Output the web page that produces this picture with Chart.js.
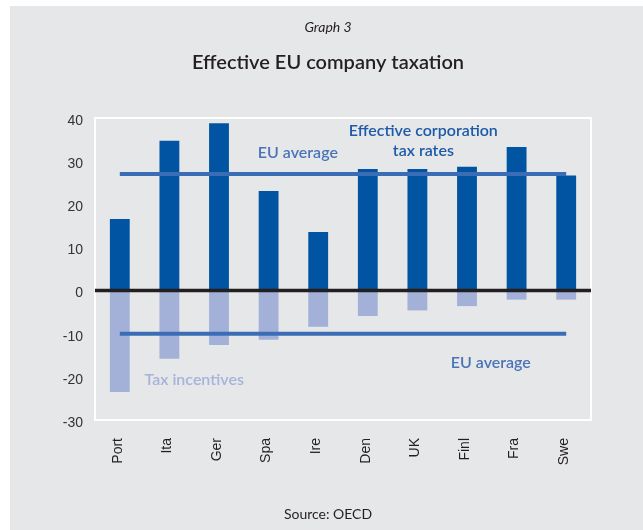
<!DOCTYPE html>
<html>
<head>
<meta charset="utf-8">
<script src="https://cdn.jsdelivr.net/npm/chart.js@4.4.1/dist/chart.umd.min.js"></script>
<style>
  html, body { margin: 0; padding: 0; background: #ffffff; }
  #wrap { width: 643px; height: 530px; position: relative; }
</style>
</head>
<body>
<div id="wrap"><canvas id="chart" width="643" height="530"></canvas></div>
<script>
// Effective corporation tax rates and tax incentives by country (%)
const countries = ['Port', 'Ita', 'Ger', 'Spa', 'Ire', 'Den', 'UK', 'Finl', 'Fra', 'Swe'];
const effectiveRates = [16.6, 34.7, 38.8, 23.1, 13.6, 28.2, 28.2, 28.7, 33.3, 26.7];
const taxIncentives = [-23.5, -15.8, -12.6, -11.4, -8.4, -5.9, -4.6, -3.6, -2.1, -2.1];
const euAverageRate = 27;
const euAverageIncentive = -10;
const yTicks = [40, 30, 20, 10, 0, -10, -20, -30];

const PANEL = '#e6e7e9';
const DARK_BLUE = '#0054a1';
const LIGHT_BLUE = '#a3b1d9';
const LINE_BLUE = '#3b6cb6';

const decorations = {
  id: 'decorations',
  beforeDraw(chart) {
    const ctx = chart.ctx;
    ctx.save();
    ctx.fillStyle = '#ffffff';
    ctx.fillRect(0, 0, chart.width, chart.height);
    ctx.fillStyle = PANEL;
    ctx.fillRect(10, 6, chart.width - 10, chart.height - 6);
    // white frame round the plot area
    const a = chart.chartArea;
    ctx.strokeStyle = '#ffffff';
    ctx.lineWidth = 2;
    ctx.strokeRect(a.left, a.top, a.right - a.left, a.bottom - a.top);
    // headings
    ctx.fillStyle = '#231f20';
    ctx.textAlign = 'center';
    ctx.textBaseline = 'middle';
    ctx.font = 'italic 14px Lato';
    ctx.fillText('Graph 3', 328, 27);
    ctx.font = '600 20px Lato';
    ctx.fillText('Effective EU company taxation', 328, 63);
    ctx.font = '14px Lato';
    ctx.fillText('Source: OECD', 328, 514);
    ctx.restore();
  },
  afterDatasetsDraw(chart) {
    const ctx = chart.ctx;
    const x = chart.scales.x;
    const y = chart.scales.y;
    const a = chart.chartArea;
    ctx.save();
    // zero axis line
    const y0 = y.getPixelForValue(0);
    ctx.strokeStyle = '#231f20';
    ctx.lineWidth = 3.5;
    ctx.beginPath();
    ctx.moveTo(a.left, y0);
    ctx.lineTo(a.right, y0);
    ctx.stroke();
    // annotations
    const at = (i, v) => [x.getPixelForValue(0) + i * (x.getPixelForValue(1) - x.getPixelForValue(0)), y.getPixelForValue(v)];
    ctx.textAlign = 'center';
    ctx.textBaseline = 'middle';
    ctx.font = '600 16px Lato';
    let p;
    ctx.fillStyle = '#4a74b8';
    p = at(3.59, 32);   ctx.fillText('EU average', p[0], p[1]);
    p = at(7.48, -16.8); ctx.fillText('EU average', p[0], p[1]);
    ctx.fillStyle = '#1d5aa7';
    p = at(6.12, 37);   ctx.fillText('Effective corporation', p[0], p[1]);
    p = at(6.12, 32.4); ctx.fillText('tax rates', p[0], p[1]);
    ctx.fillStyle = '#a6b3da';
    p = at(1.5, -20.8); ctx.fillText('Tax incentives', p[0], p[1]);
    ctx.restore();
  }
};

new Chart(document.getElementById('chart'), {
  data: {
    labels: countries,
    datasets: [
      { type: 'line', label: 'EU average rate', data: countries.map(() => euAverageRate),
        borderColor: LINE_BLUE, borderWidth: 4, pointRadius: 0, order: 1 },
      { type: 'line', label: 'EU average incentive', data: countries.map(() => euAverageIncentive),
        borderColor: LINE_BLUE, borderWidth: 4, pointRadius: 0, order: 1 },
      { type: 'bar', label: 'Effective corporation tax rates', data: effectiveRates,
        backgroundColor: DARK_BLUE, grouped: false, order: 2,
        barPercentage: 0.4, categoryPercentage: 1 },
      { type: 'bar', label: 'Tax incentives', data: taxIncentives,
        backgroundColor: LIGHT_BLUE, grouped: false, order: 2,
        barPercentage: 0.4, categoryPercentage: 1 }
    ]
  },
  options: {
    responsive: false,
    animation: false,
    layout: { padding: { left: 0, top: 118, right: 52, bottom: 0 } },
    plugins: { legend: { display: false }, tooltip: { enabled: false }, title: { display: false } },
    scales: {
      x: {
        grid: { display: false, drawTicks: false },
        border: { display: false },
        ticks: {
          color: '#231f20', font: { family: 'Liberation Sans', size: 14 },
          minRotation: 90, maxRotation: 90, autoSkip: false, padding: 18, labelOffset: -2
        },
        afterFit(scale) { scale.height = 110; }
      },
      y: {
        min: -30, max: 40,
        grid: { display: false, drawTicks: false },
        border: { display: false },
        afterBuildTicks(scale) { scale.ticks = yTicks.map(v => ({ value: v })); },
        ticks: {
          color: '#333333', font: { family: 'Liberation Sans', size: 14 },
          padding: 12, labelOffset: 3
        },
        afterFit(scale) { scale.width = 95; }
      }
    }
  },
  plugins: [decorations]
});
</script>
</body>
</html>
